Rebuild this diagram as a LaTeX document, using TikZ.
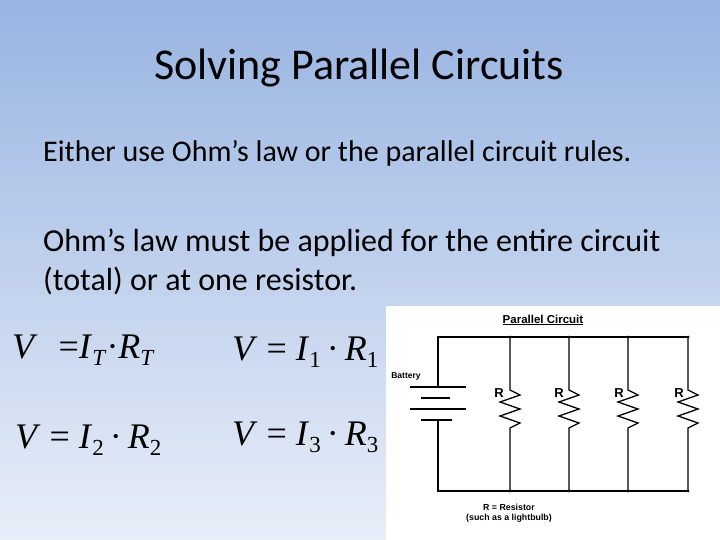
\documentclass[tikz,border=0pt]{standalone}
\usepackage{fontspec}
\setmainfont{Carlito}
\newfontfamily\eqfont{Liberation Serif}
\newfontfamily\schfont{Liberation Sans}
\newcommand{\eqsub}[1]{\raisebox{-7pt}{\fontsize{23}{23}\selectfont #1}}
\begin{document}
\begin{tikzpicture}[x=1pt, y=-1pt]

\tikzset{wire/.style={line width=1.3pt, black},
  plate/.style={line width=1.5pt, black},
  rlabel/.style={font=\schfont\bfseries\fontsize{13}{14}\selectfont, inner sep=0pt},
  eqn/.style={anchor=west, inner sep=0pt, font=\eqfont\fontsize{36}{38}\selectfont},
  bodytext/.style={anchor=west, inner sep=0pt, font=\fontsize{30}{34}\selectfont}}

% background
\shade[top color={rgb,255:red,152;green,180;blue,226}, bottom color={rgb,255:red,232;green,238;blue,248}] (0,0) rectangle (720,540);
\useasboundingbox (0,0) rectangle (720,540);

\node (title) at (359,68) {\fontsize{44}{48}\selectfont Solving Parallel Circuits};
\node[bodytext] (l1) at (43,153) {Either use Ohm’s law or the parallel circuit rules.};
\node[bodytext, font=\fontsize{32}{34}\selectfont] (l2) at (43,243) {Ohm’s law must be applied for the entire circuit};
\node[bodytext, font=\fontsize{32}{34}\selectfont] (l3) at (43,281) {(total) or at one resistor.};

\node[eqn] (e1) at (12,350) {\textit{V}\,\, =\textit{I}\eqsub{\textit{T}}·\textit{R}\eqsub{\textit{T}}};
\node[eqn] (e2) at (232,352) {\textit{V} = \textit{I}\eqsub{1}\,·\,\textit{R}\eqsub{1}};
\node[eqn] (e3) at (15,440) {\textit{V} = \textit{I}\eqsub{2}\,·\,\textit{R}\eqsub{2}};
\node[eqn] (e4) at (232,437) {\textit{V} = \textit{I}\eqsub{3}\,·\,\textit{R}\eqsub{3}};

% circuit picture
\fill[white] (386,306) rectangle (720,540);
\node (head) at (543,320) {\schfont\bfseries\fontsize{11.5}{12}\selectfont\underline{Parallel Circuit}};
\node (batt) at (406,376) {\schfont\bfseries\fontsize{8.5}{10}\selectfont Battery};
\node (key1) at (509,507) {\schfont\bfseries\fontsize{8.8}{10}\selectfont R = Resistor};
\node (key2) at (509,518) {\schfont\bfseries\fontsize{8.8}{10}\selectfont (such as a lightbulb)};

\coordinate (tl) at (438,337);
\coordinate (bl) at (438,491);
\coordinate (bp) at (438,387);
\coordinate (bn) at (438,420);
\draw[wire] (bp) -- (tl) -- (688,337);
\draw[wire] (bn) -- (bl) -- (688,491);
\draw[plate] (410,387) -- (466,387);
\draw[plate] (421,398) -- (450,398);
\draw[plate] (410,409) -- (466,409);
\draw[plate] (421,420) -- (452,420);

\foreach \x/\lx in {510/499, 569/559, 628/619, 688/679} {
  \draw[wire] (\x,337) -- (\x,390) -- ++(10,5) -- ++(-20,7) -- ++(20,7) -- ++(-20,7) -- ++(20,7) -- ++(-10,5) -- (\x,491);
  \fill (\x,337) circle (1.5);
  \fill (\x,491) circle (1.5);
  \node[rlabel] at (\lx,393) {R};
}

\end{tikzpicture}
\end{document}
